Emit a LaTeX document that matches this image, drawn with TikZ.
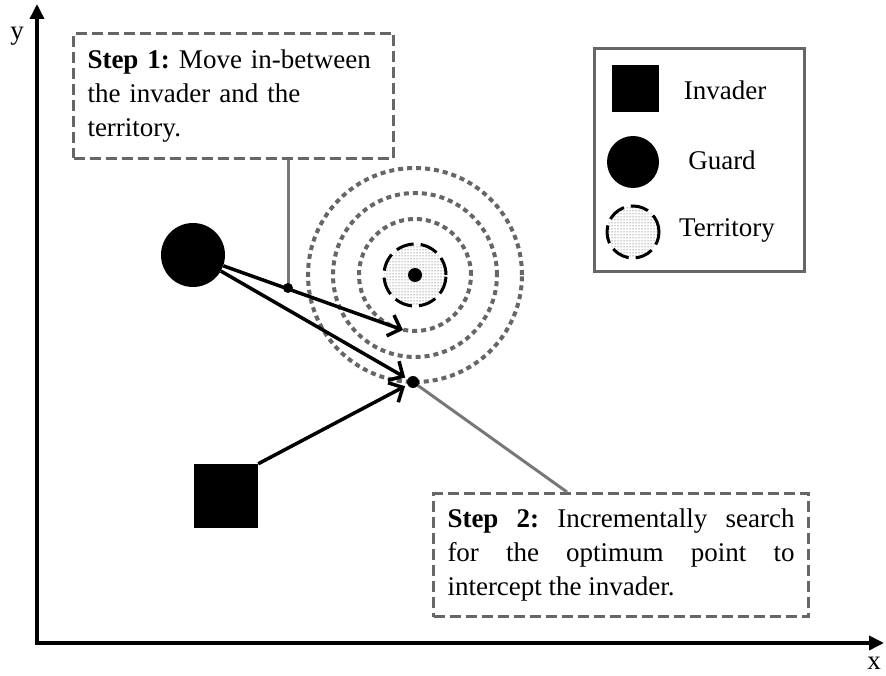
\documentclass[tikz,border=0pt]{standalone}
\usepackage{fontspec}
\setmainfont{Liberation Serif}
\usetikzlibrary{arrows.meta,patterns}
\definecolor{boxgray}{RGB}{102,102,102}
\definecolor{leadgray}{RGB}{120,120,120}
\frenchspacing
\begin{document}
\begin{tikzpicture}[x=1pt,y=-1pt,
    every node/.style={font=\fontsize{27}{34}\selectfont},
    axis/.style={line width=3.5pt,{Triangle[length=15pt,width=14pt]}-{Triangle[length=15pt,width=14pt]}},
    move/.style={line width=3.5pt,-{Straight Barb[length=11pt,width=22pt]}},
    lead/.style={line width=3pt,leadgray},
    ring/.style={line width=4pt,boxgray,dash pattern=on 5pt off 4pt},
    stepbox/.style={draw=boxgray,line width=3pt,dash pattern=on 11pt off 5pt,anchor=north west,inner xsep=14pt,inner ysep=15pt},
    zone/.style={circle,draw,line width=3pt,dash pattern=on 18pt off 7pt,pattern=dots,pattern color=black!80,inner sep=0pt},
    solid/.style={fill,inner sep=0pt}]
  \useasboundingbox (0,0) rectangle (886,676);

  \draw[axis] (37,4) -- (37,643) -- (884,643);
  \node (ylab) at (17,36) {y};
  \node (xlab) at (874,663) {x};

  \node[solid,circle,minimum size=64pt] (guard) at (193,255) {};
  \node[solid,minimum size=64pt] (invader) at (226,496) {};
  \node[zone,minimum size=62pt] (territory) at (415,275) {};
  \fill (territory.center) circle (7pt);
  \draw[ring] (territory.center) circle (56pt);
  \draw[ring] (territory.center) circle (82pt);
  \draw[ring] (territory.center) circle (107pt);

  \coordinate (aim) at (403,330);
  \coordinate (via) at (288,288);
  \coordinate (meet) at (413,382);

  \draw[move] (guard) -- (aim);
  \draw[move,shorten >=9pt] (guard) -- (meet);
  \draw[move,shorten >=9pt] (invader.north east) -- (meet);

  \node[stepbox,text width=292pt,align=left,minimum height=125pt] (step1) at (72,32)
    {\textbf{Step 1:} Move in-between\\the invader and the\\territory.};
  \node[stepbox,text width=347pt,align=justify,minimum height=123pt] (step2) at (432,492)
    {\textbf{Step 2:} Incrementally search\linebreak for the optimum point to\linebreak intercept the invader.};

  \draw[lead] (via |- step1.south) -- (via);
  \draw[lead] (meet) -- ([xshift=-54pt]step2.north);
  \fill (via) circle (5pt);
  \fill (meet) circle (6pt);

  \node[draw=boxgray,line width=3pt,minimum width=210pt,minimum height=223pt,anchor=north west] (legend) at (593,47) {};
  \node[solid,minimum size=47pt] (keyinvader) at (635,89) {};
  \node[solid,circle,minimum size=52pt] (keyguard) at (633,162) {};
  \node[zone,minimum size=52pt] (keyterritory) at (633,232) {};
  \node (invaderlab) at (725,90) {Invader};
  \node (guardlab) at (722,160) {Guard};
  \node (territorylab) at (727,230) {Territory};
\end{tikzpicture}
\end{document}
